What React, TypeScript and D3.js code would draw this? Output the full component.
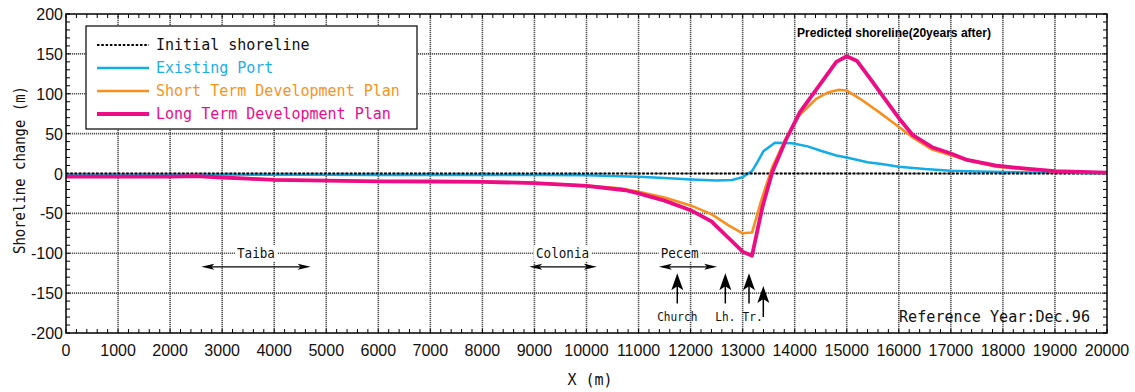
import React from 'react'
import * as d3 from 'd3'

// shoreline change (m) against alongshore distance X (m)
const existingPort = [
  [0, -1.3], [1000, -1.3], [2000, -1.3], [3000, -1.4], [4000, -1.5], [5000, -1.5],
  [6000, -1.8], [6500, -2], [7000, -1.8], [8000, -1.8], [9000, -2], [10000, -2.2],
  [10500, -3], [11000, -4], [11500, -5.5], [12000, -7.5], [12500, -8.8], [12800, -8.2],
  [13000, -4.5], [13180, 3], [13280, 14], [13400, 28], [13620, 38.5], [13950, 38],
  [14250, 34], [14500, 28.5], [14800, 22.5], [15000, 20], [15400, 14], [15700, 11.5],
  [16000, 8.5], [16500, 5.5], [17000, 3.6], [17500, 2.5], [18000, 1.8], [19000, 0.8],
  [20000, 0.3],
]

const shortTerm = [
  [0, -4], [1000, -4], [2000, -4], [2500, -3.3], [3000, -5], [3500, -6.5], [4000, -8],
  [5000, -9], [6000, -10], [7000, -10], [8000, -10.3], [9000, -12], [10000, -15],
  [10700, -19], [11000, -23], [11500, -30], [12000, -40], [12400, -51], [12730, -65],
  [13000, -75], [13180, -74], [13380, -29], [13570, 8], [13830, 44], [14090, 73],
  [14420, 94], [14650, 102], [14850, 105], [15000, 104], [15250, 94], [15640, 76],
  [16030, 57], [16250, 46], [16640, 30], [17000, 23], [17290, 17], [17870, 8.5],
  [18500, 5], [19000, 2.5], [20000, 0.8],
]

const longTerm = [
  [0, -4], [1000, -4], [2000, -4], [2500, -3.3], [3000, -5], [3500, -6.5], [4000, -8],
  [5000, -9], [6000, -10], [7000, -10], [8000, -10.5], [9000, -12], [10000, -15.5],
  [10750, -21], [11000, -25], [11500, -34], [12000, -46], [12400, -60], [12700, -79],
  [13000, -98], [13180, -103], [13380, -42], [13570, 2], [13830, 42], [14100, 77],
  [14400, 104], [14800, 140], [15000, 147], [15200, 141], [15450, 119], [15770, 90],
  [16030, 67], [16270, 48], [16640, 33], [17000, 25], [17290, 17.5], [17870, 10],
  [18450, 6], [19000, 3], [19500, 2], [20000, 1],
]

const initialShoreline = [[0, 0], [20000, 0]]

const xTicks = d3.range(0, 20001, 1000)
const yTicks = d3.range(-200, 201, 50)

const legendItems = [
  { label: 'Initial shoreline', color: '#000', text: '#111', dash: '2.5 1.8', w: 2 },
  { label: 'Existing Port', color: '#12ACE6', text: '#1AAFE8', dash: null, w: 2.5 },
  { label: 'Short Term Development Plan', color: '#F7901E', text: '#F7941E', dash: null, w: 2.5 },
  { label: 'Long Term Development Plan', color: '#EC0C84', text: '#EC0C8C', dash: null, w: 3.8 },
]

// place names with their alongshore extent
const places = [
  { name: 'Taiba', at: 3650, from: 2600, to: 4700 },
  { name: 'Colonia', at: 9540, from: 8900, to: 10200 },
  { name: 'Pecem', at: 11790, from: 11390, to: 12510 },
]

// structures pointed at with up arrows
const markers = [
  { name: 'Church', at: 11744, labelAt: 11744, tip: -125, base: -163 },
  { name: 'Lh.', at: 12667, labelAt: 12667, tip: -125, base: -163 },
  { name: 'Tr.', at: 13122, labelAt: 13190, tip: -125, base: -163 },
  { name: '', at: 13397, labelAt: 13397, tip: -141, base: -180 },
]

const mono = '"DejaVu Sans Mono", monospace'
const sans = '"Liberation Sans", Arial, sans-serif'

export default function App() {
  const x = d3.scaleLinear().domain([0, 20000]).range([66, 1107])
  const y = d3.scaleLinear().domain([-200, 200]).range([333, 14])
  const line = d3.line<number[]>().x(d => x(d[0])).y(d => y(d[1]))

  const [x0, x1] = x.range()
  const [y0, y1] = y.range()

  const upHead = (px: number, py: number) =>
    `M${px},${py} L${px - 6},${py + 17} L${px},${py + 13} L${px + 6},${py + 17} Z`

  return (
    <svg
      width={1135}
      height={392}
      style={{ position: 'absolute', left: 0, top: 0, background: '#fff' }}
    >
      {/* grid */}
      <g stroke="#555" strokeWidth={1.6} strokeDasharray="1.2 0.8">
        {xTicks.slice(1, -1).map(t => (
          <line key={'gx' + t} x1={x(t)} x2={x(t)} y1={y1} y2={y0} />
        ))}
        {yTicks.slice(1, -1).map(t => (
          <line key={'gy' + t} x1={x0} x2={x1} y1={y(t)} y2={y(t)} />
        ))}
      </g>

      {/* minor ticks, inward on all four sides */}
      <g stroke="#000" strokeWidth={1}>
        {d3.range(0, 20001, 200).map(t => (
          <g key={'tx' + t}>
            <line x1={x(t)} x2={x(t)} y1={y0} y2={y0 - 4} />
            <line x1={x(t)} x2={x(t)} y1={y1} y2={y1 + 4} />
          </g>
        ))}
        {d3.range(-200, 201, 10).map(t => (
          <g key={'ty' + t}>
            <line x1={x0} x2={x0 + 4} y1={y(t)} y2={y(t)} />
            <line x1={x1} x2={x1 - 4} y1={y(t)} y2={y(t)} />
          </g>
        ))}
      </g>

      {/* tick labels */}
      <g fontFamily={sans} fontSize={16} fill="#111">
        {xTicks.map(t => (
          <text key={'lx' + t} x={x(t)} y={356} textAnchor="middle">
            {t}
          </text>
        ))}
        {yTicks.map(t => (
          <text key={'ly' + t} x={63} y={y(t) + 6} textAnchor="end">
            {t}
          </text>
        ))}
      </g>

      {/* axis titles */}
      <text
        x={590}
        y={385}
        textAnchor="middle"
        fontFamily={mono}
        fontSize={15}
        fill="#111"
      >
        X (m)
      </text>
      <text
        transform="translate(25,170) rotate(-90)"
        textAnchor="middle"
        fontFamily={mono}
        fontSize={15}
        textLength={168}
        lengthAdjust="spacingAndGlyphs"
        fill="#111"
      >
        Shoreline change (m)
      </text>

      {/* curves */}
      <path d={line(existingPort) ?? ''} fill="none" stroke={legendItems[1].color} strokeWidth={2.5} />
      <path
        d={line(initialShoreline) ?? ''}
        fill="none"
        stroke="#000"
        strokeWidth={2}
        strokeDasharray="2.5 1.8"
      />
      <path d={line(shortTerm) ?? ''} fill="none" stroke={legendItems[2].color} strokeWidth={2.6} strokeLinejoin="round" />
      <path d={line(longTerm) ?? ''} fill="none" stroke={legendItems[3].color} strokeWidth={3.8} strokeLinejoin="round" />

      {/* place names */}
      {places.map(p => {
        const w = p.name.length * 7.6
        return (
          <g key={p.name}>
            <rect x={x(p.at) - w / 2 - 2} y={y(-100) - 8} width={w + 4} height={16} fill="#fff" />
            <text
              x={x(p.at)}
              y={y(-100) + 5}
              textAnchor="middle"
              fontFamily={mono}
              fontSize={13.5}
              textLength={w}
              lengthAdjust="spacingAndGlyphs"
              fill="#111"
            >
              {p.name}
            </text>
            <line x1={x(p.from) + 6} x2={x(p.to) - 6} y1={y(-117)} y2={y(-117)} stroke="#000" strokeWidth={1.3} />
            <path
              d={`M${x(p.from)},${y(-117)} L${x(p.from) + 13},${y(-117) - 3} L${x(p.from) + 10},${y(-117)} L${x(p.from) + 13},${y(-117) + 3} Z`}
              fill="#000"
            />
            <path
              d={`M${x(p.to)},${y(-117)} L${x(p.to) - 13},${y(-117) - 3} L${x(p.to) - 10},${y(-117)} L${x(p.to) - 13},${y(-117) + 3} Z`}
              fill="#000"
            />
          </g>
        )
      })}

      {/* structure markers */}
      {markers.map(m => (
        <g key={'m' + m.at}>
          <line x1={x(m.at)} x2={x(m.at)} y1={y(m.tip) + 12} y2={y(m.base)} stroke="#000" strokeWidth={1.5} />
          <path d={upHead(x(m.at), y(m.tip))} fill="#000" />
          {m.name && (
            <text
              x={x(m.labelAt)}
              y={321}
              textAnchor="middle"
              fontFamily={mono}
              fontSize={13}
              textLength={m.name.length * 6.7}
              lengthAdjust="spacingAndGlyphs"
              fill="#111"
            >
              {m.name}
            </text>
          )}
        </g>
      ))}

      {/* legend */}
      <rect x={86} y={26} width={331} height={103} fill="#fff" stroke="#000" strokeWidth={1.2} />
      {legendItems.map((d, i) => {
        const ly = 45 + i * 23
        return (
          <g key={d.label}>
            <line
              x1={97}
              x2={149}
              y1={ly}
              y2={ly}
              stroke={d.color}
              strokeWidth={d.w}
              strokeDasharray={d.dash ?? undefined}
            />
            <text x={156} y={ly + 5} fontFamily={mono} fontSize={15} fill={d.text}>
              {d.label}
            </text>
          </g>
        )
      })}

      {/* annotations */}
      <text
        x={797}
        y={37}
        fontFamily={sans}
        fontWeight="bold"
        fontSize={13}
        textLength={194}
        lengthAdjust="spacingAndGlyphs"
        fill="#000"
      >
        Predicted shoreline(20years after)
      </text>
      <text x={899} y={322} fontFamily={mono} fontSize={15} textLength={191} lengthAdjust="spacingAndGlyphs" fill="#111">
        Reference Year:Dec.96
      </text>

      {/* frame */}
      <rect x={x0} y={y1} width={x1 - x0} height={y0 - y1} fill="none" stroke="#000" strokeWidth={1.5} />
    </svg>
  )
}
